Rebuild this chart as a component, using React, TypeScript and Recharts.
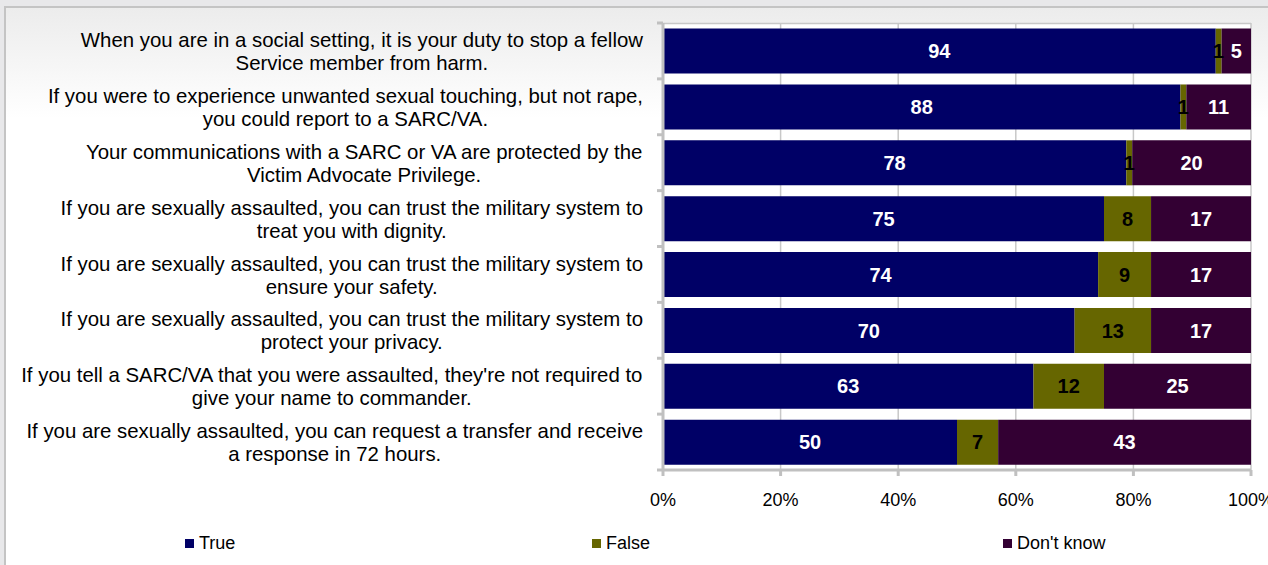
import React from "react";
import { BarChart, Bar, XAxis, YAxis, CartesianGrid, LabelList } from "recharts";

const categories = [
  "When you are in a social setting, it is your duty to stop a fellow\nService member from harm.",
  "If you were to experience unwanted sexual touching, but not rape,\nyou could report to a SARC/VA.",
  "Your communications with a SARC or VA are protected by the\nVictim Advocate Privilege.",
  "If you are sexually assaulted, you can trust the military system to\ntreat you with dignity.",
  "If you are sexually assaulted, you can trust the military system to\nensure your safety.",
  "If you are sexually assaulted, you can trust the military system to\nprotect your privacy.",
  "If you tell a SARC/VA that you were assaulted, they're not required to\ngive your name to commander.",
  "If you are sexually assaulted, you can request a transfer and receive\na response in 72 hours.",
];
const trueVals = [94, 88, 78, 75, 74, 70, 63, 50];
const falseVals = [1, 1, 1, 8, 9, 13, 12, 7];
const dontKnowVals = [5, 11, 20, 17, 17, 17, 25, 43];
const xTicks = [0, 0.2, 0.4, 0.6, 0.8, 1];
const seriesNames = ["True", "False", "Don't know"];
const seriesColors = ["#000066", "#666600", "#330033"];

const data = categories.map((q, i) => ({
  q,
  t: trueVals[i],
  f: falseVals[i],
  d: dontKnowVals[i],
}));

const FONT = '"Liberation Sans", Arial, sans-serif';
const CAT_FS = 20.4;

let ctx: CanvasRenderingContext2D | null = null;
function measure(s: string, fs: number) {
  if (!ctx) ctx = document.createElement("canvas").getContext("2d");
  if (!ctx) return s.length * fs * 0.5;
  ctx.font = `${fs}px "Liberation Sans"`;
  return ctx.measureText(s).width;
}

const BAND = 447 / 8;

function CatTick(props: any) {
  const { x, y, payload, index } = props;
  const lines: string[] = String(payload.value).split("\n");
  const right = x - 20;
  const maxW = Math.max(...lines.map((l) => measure(l, CAT_FS)));
  const cx = right - maxW / 2;
  const axisX = x;
  const top = y - BAND / 2;
  return (
    <g>
      <line x1={axisX - 6} x2={axisX} y1={top} y2={top} stroke="#c0c0c0" strokeWidth={3} />
      {index === categories.length - 1 && (
        <line x1={axisX - 6} x2={axisX} y1={y + BAND / 2} y2={y + BAND / 2} stroke="#c0c0c0" strokeWidth={3} />
      )}
      {lines.map((l, i) => (
        <text
          key={i}
          x={cx}
          y={y + (i - (lines.length - 1) / 2) * 23 + 0.5}
          dy="0.35em"
          textAnchor="middle"
          fontSize={CAT_FS}
          fontFamily={FONT}
          fill="#000"
        >
          {l}
        </text>
      ))}
    </g>
  );
}

const legendX = [185, 592, 1003];

export default function App() {
  return (
    <div
      style={{
        position: "absolute",
        left: 0,
        top: 0,
        width: 1268,
        height: 565,
        overflow: "hidden",
        background: "#e8e8ea",
        fontFamily: FONT,
      }}
    >
      <div
        style={{
          position: "absolute",
          left: 4,
          top: 6,
          width: 1400,
          height: 700,
          borderTop: "2px solid #c4c4c4",
          borderLeft: "2px solid #c4c4c4",
          background: "linear-gradient(to bottom, #ececec 0px, #ffffff 110px)",
        }}
      />
      <div style={{ position: "absolute", left: 0, top: 0 }}>
        <BarChart
          width={1268}
          height={565}
          data={data}
          layout="vertical"
          stackOffset="expand"
          barCategoryGap="10%"
          margin={{ top: 23, right: 17, left: 0, bottom: 65 }}
          style={{ fontFamily: FONT }}
        >
          <CartesianGrid
            horizontal={true}
            horizontalPoints={[23.5]}
            vertical={true}
            stroke="#c8c8c8"
            strokeWidth={1.5}
            fill="#ffffff"
          />
          <XAxis
            type="number"
            domain={[0, 1]}
            ticks={xTicks}
            tickFormatter={(v: number) => `${Math.round(v * 100)}%`}
            axisLine={{ stroke: "#c0c0c0", strokeWidth: 3 }}
            tickLine={{ stroke: "#c0c0c0", strokeWidth: 3 }}
            tickSize={6}
            tickMargin={17}
            height={30}
            interval={0}
            tick={{ fontSize: 18, fill: "#000", fontFamily: FONT }}
          />
          <YAxis
            type="category"
            dataKey="q"
            width={663}
            axisLine={{ stroke: "#c0c0c0", strokeWidth: 3 }}
            tickLine={false}
            tickSize={0}
            tickMargin={0}
            interval={0}
            tick={<CatTick />}
          />
          {(["t", "f", "d"] as const).map((k, i) => (
            <Bar
              key={k}
              dataKey={k}
              stackId="a"
              name={seriesNames[i]}
              fill={seriesColors[i]}
              isAnimationActive={false}
            >
              <LabelList
                dataKey={k}
                position="center"
                fill={i === 1 ? "#000" : "#fff"}
                fontSize={20}
                fontWeight="bold"
                fontFamily={FONT}
              />
            </Bar>
          ))}
        </BarChart>
      </div>
      {seriesNames.map((n, i) => (
        <div
          key={n}
          style={{
            position: "absolute",
            left: legendX[i],
            top: 532,
            height: 22,
            display: "flex",
            alignItems: "center",
            fontSize: 18,
            color: "#000",
          }}
        >
          <span
            style={{
              display: "inline-block",
              width: 9,
              height: 9,
              background: seriesColors[i],
              marginRight: 5,
            }}
          />
          {n}
        </div>
      ))}
    </div>
  );
}
